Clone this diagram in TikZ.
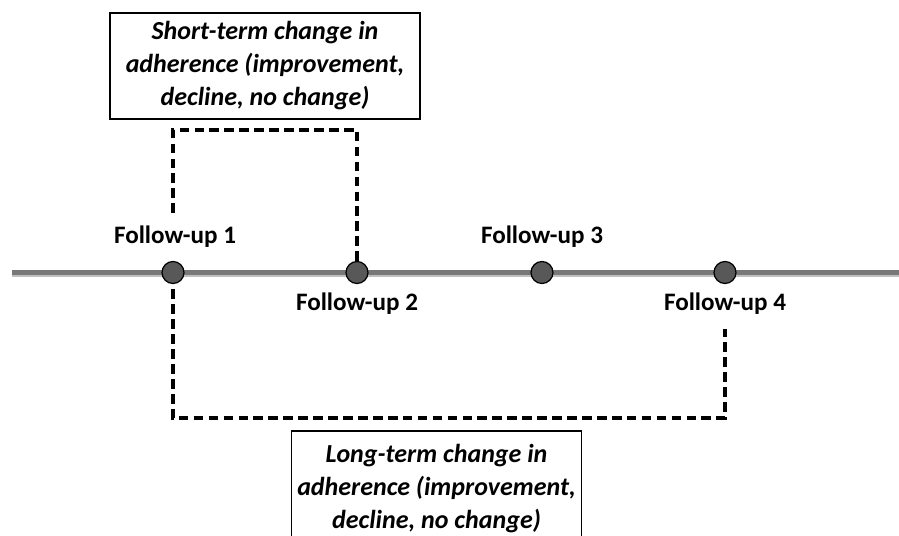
\documentclass[tikz,border=0pt]{standalone}
\usepackage{fontspec}
\setmainfont{Carlito}
\usepackage{tikz}
\definecolor{axisgray}{RGB}{120,120,120}
\definecolor{dotgray}{RGB}{88,88,88}
\tikzset{
	fdot/.style={circle,draw=black,line width=0.7pt,fill=dotgray,minimum size=0.44cm,inner sep=0pt},
	flabel/.style={font=\fontsize{14.3}{17}\selectfont\bfseries,inner sep=1pt},
	infobox/.style={draw=black,line width=0.9pt,fill=white,align=center,
		font=\fontsize{14.8}{18.8}\selectfont\bfseries\itshape},
	bracket/.style={line width=2pt,dash pattern=on 5.5pt off 3pt}
}

\begin{document}
\begin{tikzpicture}[x=0.02cm,y=-0.02cm]
	\useasboundingbox (0,0) rectangle (899,535);

	\draw [line width=2.6pt,black!25] (12,275) -- (899,275);
	\draw [line width=2.4pt,axisgray] (12,272.5) -- (899,272.5);

	\node [fdot] (fu1) at (173,272.5) {};
	\node [fdot] (fu2) at (357,272.5) {};
	\node [fdot] (fu3) at (542,272.5) {};
	\node [fdot] (fu4) at (725,272.5) {};

	\node [flabel] (l1) at (175,237) {Follow-up 1};
	\node [flabel] (l2) at (357,304) {Follow-up 2};
	\node [flabel] (l3) at (542,237) {Follow-up 3};
	\node [flabel] (l4) at (725,304) {Follow-up 4};

	\node [infobox,minimum width=6.2cm,minimum height=2.12cm] (short) at (265,66)
		{Short-term change in\\adherence (improvement,\\decline, no change)};
	\node [infobox,anchor=north,minimum width=5.66cm,minimum height=2.3cm] (long) at (436.5,430)
		{Long-term change in\\adherence (improvement,\\decline, no change)};

	\coordinate (s1) at (173,213);
	\coordinate (s2) at (173,130);
	\coordinate (s3) at (357,130);
	\coordinate (b1) at (173,418);
	\coordinate (b2) at (725,418);
	\coordinate (b3) at (725,329);

	\draw [bracket] (s1) -- (s2) -- (s3) -- (fu2.north);
	\draw [bracket] ([yshift=-3pt]fu1.south) -- (b1) -- (b2) -- (b3);
\end{tikzpicture}
\end{document}
